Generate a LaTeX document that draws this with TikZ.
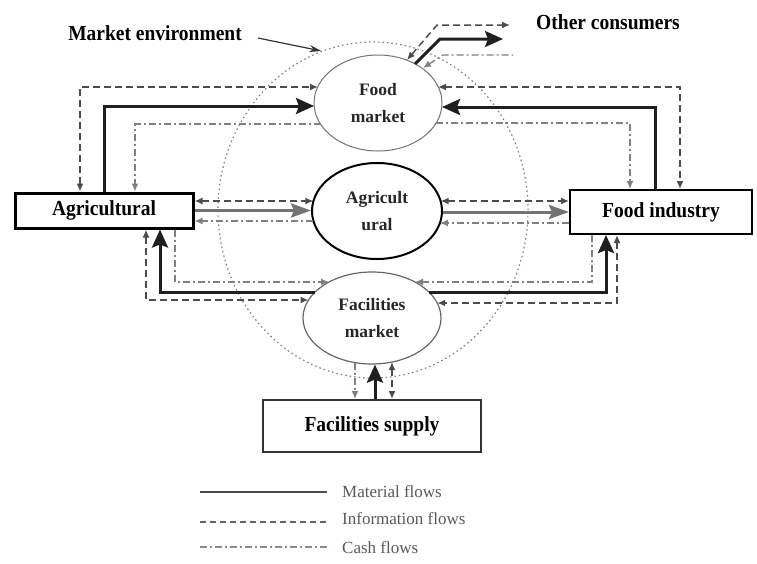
\documentclass[tikz,border=0pt]{standalone}
\usepackage{fontspec}
\setmainfont{Liberation Serif}
\usepackage{graphicx}
\usetikzlibrary{arrows.meta,shapes.geometric,calc}
\newcommand\bigtxt[1]{\scalebox{1}[1.1]{#1}}
\begin{document}
\begin{tikzpicture}[x=1pt,y=-1pt]
\tikzset{
 big/.tip={Stealth[length=18pt,width=16pt,inset=3pt]},
 sm/.tip={Latex[length=8pt,width=7pt]},
 mat/.style={line width=3pt,draw=black!88,-big},
 matg/.style={line width=3pt,draw=black!55,-{Stealth[length=20pt,width=14pt,inset=3pt]}},
 info/.style={line width=1.5pt,draw=black!70,dash pattern=on 7pt off 4pt},
 cash/.style={line width=1.3pt,draw=black!50,dash pattern=on 7pt off 3pt on 2pt off 3pt},
 boxnode/.style={draw=black,rectangle,inner sep=0pt,font=\bfseries\fontsize{19.5}{22}\selectfont},
 ellnode/.style={ellipse,inner sep=0pt,align=center,font=\bfseries\fontsize{17.5}{27}\selectfont,text=black!85},
 bigtext/.style={font=\bfseries\fontsize{19.5}{22}\selectfont,inner sep=0pt},
 legtext/.style={font=\fontsize{17}{20}\selectfont,text=black!65,anchor=west,inner sep=0pt},
 envell/.style={ellipse,draw=black!50,line width=1.2pt,dash pattern=on 1.5pt off 3pt,minimum width=310pt,minimum height=336pt,inner sep=0pt},
}
\useasboundingbox (0,0) rectangle (757,563);

% market environment
\node[envell] (env) at (373,210) {};

% ellipses
\node[ellnode,draw=black!55,line width=1pt,minimum width=128pt,minimum height=96pt] (fm) at (378,103) {Food\\market};
\node[ellnode,draw=black,line width=2pt,minimum width=130pt,minimum height=96pt] (am) at (377,211) {Agricult\\ural};
\node[ellnode,draw=black!60,line width=1.2pt,minimum width=138pt,minimum height=92pt] (fcm) at (372,318) {Facilities\\market};

% boxes
\node[boxnode,line width=3pt,minimum width=178pt,minimum height=35pt] (agb) at (104,210.5) {\bigtxt{Agricultural}};
\node[boxnode,line width=2pt,minimum width=182pt,minimum height=44pt] (fib) at (661,212) {\bigtxt{Food industry}};
\node[boxnode,line width=2pt,draw=black!80,minimum width=218pt,minimum height=52pt] (fsb) at (372,426) {\bigtxt{Facilities supply}};

% texts
\node[bigtext] (metxt) at (155,33) {\bigtxt{Market environment}};
\node[bigtext] (octxt) at (608,22) {\bigtxt{Other consumers}};
\draw[line width=1.2pt,draw=black!80,-{Stealth[length=12pt,width=7pt]}] ([xshift=16pt,yshift=-5pt]metxt.east) -- (env.108);

% top left
\draw[info,sm-sm] ([xshift=-24pt]agb.north) |- ($(fm.center)+(-60,-16)$);
\draw[mat] (agb.north) |- ($(fm.center)+(-64,3)$);
\draw[cash,-sm] ($(fm.center)+(-57.5,21)$) -| ([xshift=31pt]agb.north);

% top right
\draw[info,sm-sm] ($(fm.center)+(60,-16)$) -| ([xshift=19pt]fib.north);
\draw[mat] ([xshift=-6pt]fib.north) |- ($(fm.center)+(64,4)$);
\draw[cash,-sm] ($(fm.center)+(58,20)$) -| ([xshift=-31pt]fib.north);

% middle
\draw[info,sm-sm] ([yshift=9.5pt]agb.east) -- ($(am.center)+(-63.6,-10)$);
\draw[matg] (agb.east) -- (am.west |- agb.east);
\draw[cash,-sm] ($(am.center)+(-63.6,10)$) -- ([yshift=-10.5pt]agb.east);
\draw[info,sm-sm] ($(am.center)+(63.6,-10)$) -- ([yshift=11pt]fib.west);
\draw[matg] (am.east |- fib.west) -- (fib.west);
\draw[cash,-sm] ([yshift=-11pt]fib.west) -- ($(am.center)+(62.9,12)$);

% bottom left
\draw[cash,-sm] ([xshift=71pt]agb.south) |- ($(fcm.center)+(-43,-36)$);
\draw[mat] ($(fcm.center)+(-57,-26)$) -| ([xshift=56pt]agb.south);
\draw[info,sm-sm] ([xshift=42pt]agb.south) |- ($(fcm.center)+(-63.5,-18)$);

% bottom right
\draw[cash,-sm] ([xshift=-69pt]fib.south) |- ($(fcm.center)+(43,-36)$);
\draw[mat] ($(fcm.center)+(57,-26)$) -| ([xshift=-55pt]fib.south);
\draw[info,sm-sm] ([xshift=-44pt]fib.south) |- ($(fcm.center)+(65.2,-15)$);

% facilities supply
\draw[cash,-sm] ($(fcm.center)+(-17,44.6)$) -- ([xshift=-17pt]fsb.north);
\draw[mat] ([xshift=3pt]fsb.north) -- ([xshift=3pt]fcm.south);
\draw[info,sm-sm] ($(fcm.center)+(20,44)$) -- ([xshift=20pt]fsb.north);

% other consumers
\coordinate (ocm) at (503,39);
\coordinate (oci) at (510,25);
\coordinate (occ) at (513,55);
\draw[mat] ($(fm.center)+(37,-39)$) -- (440,39) -- (ocm);
\draw[info,sm-sm] ($(fm.center)+(29,-43)$) -- (437,25) -- (oci);
\draw[cash,sm-] ($(fm.center)+(45,-35)$) -- (443,55) -- (occ);

% legend
\coordinate (l1a) at (200,492); \coordinate (l1b) at (327,492);
\coordinate (l2a) at (200,522); \coordinate (l2b) at (327,522);
\coordinate (l3a) at (200,547); \coordinate (l3b) at (330,547);
\draw[line width=2.5pt,draw=black!70] (l1a) -- (l1b);
\draw[line width=1.5pt,draw=black!60,dash pattern=on 6pt off 4pt] (l2a) -- (l2b);
\draw[line width=1.2pt,draw=black!45,dash pattern=on 7pt off 3pt on 2pt off 3pt] (l3a) -- (l3b);
\node[legtext] (lt1) at (342,492) {Material flows};
\node[legtext] (lt2) at (342,519) {Information flows};
\node[legtext] (lt3) at (342,548) {Cash flows};
\end{tikzpicture}
\end{document}
